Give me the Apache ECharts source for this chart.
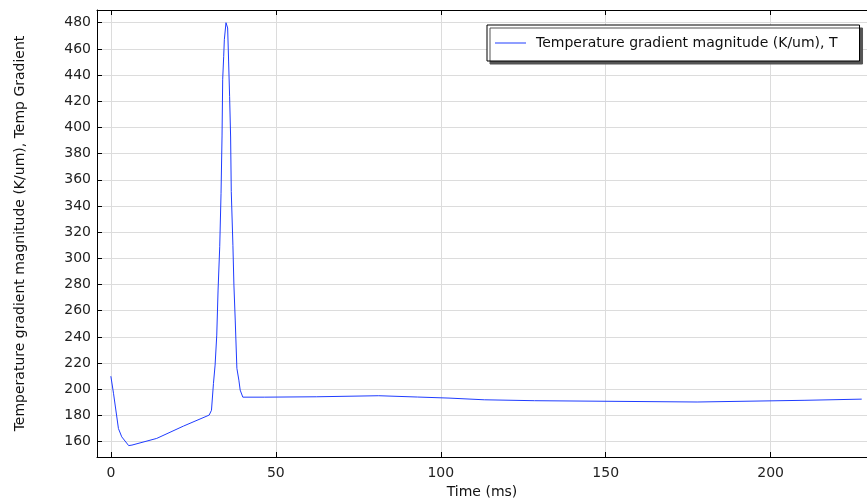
<!DOCTYPE html>
<html>
<head>
<meta charset="utf-8">
<script src="https://cdn.jsdelivr.net/npm/echarts@6/dist/echarts.min.js"></script>
<style>
html,body{margin:0;padding:0;background:#fff;}
#chart{width:867px;height:500px;}
</style>
</head>
<body>
<div id="chart"></div>
<script>
// Time (ms)
const timeMs = [0, 0.8, 2.3, 3.3, 5.4, 6.4, 13.9, 22.0, 29.8, 30.5, 31.1, 31.6, 32.1, 32.5, 33.0, 33.4, 33.7, 33.9, 34.2, 34.4, 34.9, 35.4, 35.7, 36.0, 36.3, 36.5, 37.0, 37.3, 37.7, 38.2, 38.8, 39.2, 40.0, 46.5, 47.0, 62.4, 63.0, 81.2, 81.8, 93.0, 93.5, 102.5, 103.0, 113.2, 113.7, 128.4, 129.0, 177.7, 178.3, 210.4, 211.0, 227.6];
// Temperature gradient magnitude (K/um)
const tempGradient = [210, 197, 170, 163.7, 157, 157.4, 162.5, 171.9, 180.3, 184, 204.5, 218.5, 241.4, 275.8, 308.9, 349.7, 393.5, 436.8, 454, 467, 480, 476, 450, 423.5, 392.7, 351, 310, 279.6, 252.9, 216, 207, 199.4, 194.0, 194.0, 194.3, 194.3, 195.1, 195.1, 194.1, 194.1, 193.3, 193.3, 192.0, 192.0, 191.3, 191.3, 190.3, 190.3, 191.6, 191.6, 192.5, 192.5];

const seriesName = 'Temperature gradient magnitude (K/um), T';
const xAxisName = 'Time (ms)';
const yAxisName = 'Temperature gradient magnitude (K/um), Temp Gradient';

const data = timeMs.map((t, i) => [t, tempGradient[i]]);

const font = 'DejaVu Sans';
const lineColor = '#1f3cff';
const chart = echarts.init(document.getElementById('chart'), null, {renderer: 'canvas'});
chart.setOption({
  animation: false,
  backgroundColor: '#fff',
  grid: {left: 97, top: 10, right: 0, bottom: 43, containLabel: false, outerBoundsMode: 'none'},
  legend: {
    show: true,
    left: 487, top: 25,
    orient: 'horizontal',
    backgroundColor: '#fff',
    borderColor: '#000',
    borderWidth: 1,
    borderRadius: 0,
    padding: [11, 22, 11, 8],
    shadowColor: '#555',
    shadowBlur: 0,
    shadowOffsetX: 3,
    shadowOffsetY: 3,
    itemWidth: 31,
    itemHeight: 1,
    textStyle: {fontFamily: font, fontSize: 14, color: '#111', padding: [0, 0, 0, 5]},
    data: [{name: seriesName, icon: 'rect', itemStyle: {color: lineColor}}]
  },
  xAxis: [{
    type: 'value',
    min: -4.2, max: 229.2,
    splitNumber: 5,
    name: xAxisName,
    nameLocation: 'middle',
    nameGap: 28,
    nameTextStyle: {fontFamily: font, fontSize: 14, color: '#111'},
    axisLine: {show: true, onZero: false, lineStyle: {color: '#000', width: 1}},
    axisTick: {show: true, inside: true, length: 5, lineStyle: {color: '#000'}},
    axisLabel: {fontFamily: font, fontSize: 14, color: '#222', margin: 9, showMinLabel: false, showMaxLabel: false},
    splitLine: {show: true, lineStyle: {color: '#dcdcdc', width: 1}}
  }, {
    type: 'value',
    position: 'top',
    min: -4.2, max: 229.2,
    splitNumber: 5,
    axisLine: {show: true, onZero: false, lineStyle: {color: '#000', width: 1}},
    axisTick: {show: true, inside: true, length: 5, lineStyle: {color: '#000'}},
    axisLabel: {show: false},
    splitLine: {show: false}
  }],
  yAxis: {
    type: 'value',
    min: 148.3, max: 489.7,
    splitNumber: 17,
    name: yAxisName,
    nameLocation: 'middle',
    nameRotate: 90,
    nameGap: 70,
    nameTextStyle: {fontFamily: font, fontSize: 14, color: '#111'},
    axisLine: {show: true, onZero: false, lineStyle: {color: '#000', width: 1}},
    axisTick: {show: true, inside: true, length: 5, lineStyle: {color: '#000'}},
    axisLabel: {fontFamily: font, fontSize: 14, color: '#222', margin: 6, showMinLabel: false, showMaxLabel: false},
    splitLine: {show: true, lineStyle: {color: '#dcdcdc', width: 1}}
  },
  series: [{
    name: seriesName,
    type: 'line',
    xAxisIndex: 0,
    data: data,
    symbol: 'none',
    showSymbol: false,
    lineStyle: {color: lineColor, width: 1},
    itemStyle: {color: lineColor},
    clip: true
  }]
});
</script>
</body>
</html>
